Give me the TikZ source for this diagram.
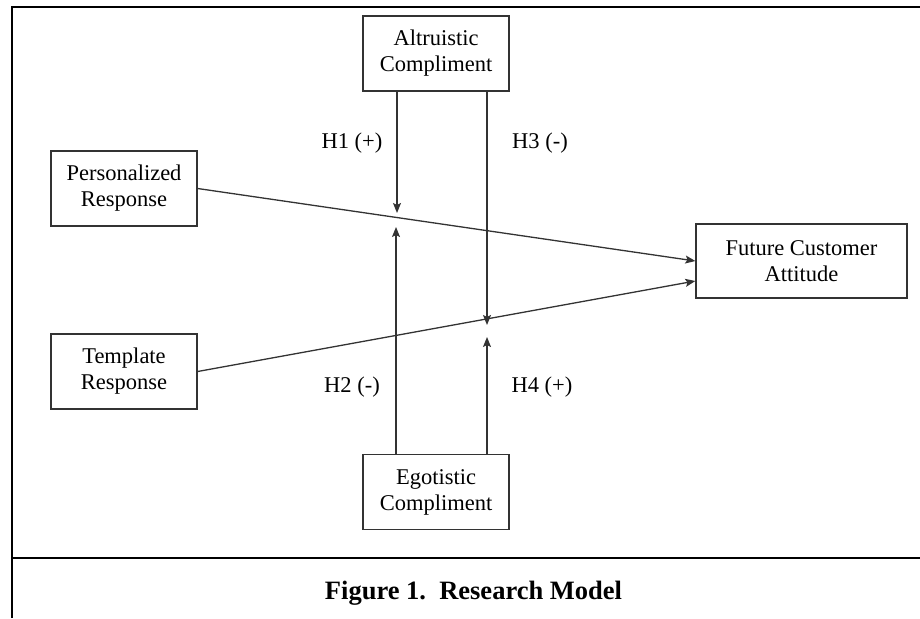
\documentclass[tikz,border=0pt]{standalone}
\usepackage{fontspec}
\setmainfont{Liberation Serif}
\usetikzlibrary{arrows.meta,calc}
\begin{document}
\begin{tikzpicture}[x=1pt,y=-1pt,
  box/.style={draw=black!80,line width=1.3pt,minimum width=146pt,minimum height=75pt,inner sep=0pt,align=center,font=\fontsize{22.5}{26}\selectfont},
  lbl/.style={font=\fontsize{22.5}{26}\selectfont,inner sep=0pt},
  arr/.style={draw=black!80,line width=1.3pt,-{Stealth[length=10pt,width=8pt,inset=2pt]}},
  frame/.style={line width=2.4pt,black}]
\useasboundingbox (0,0) rectangle (920,618);
% frame
\draw[frame] (12,618) -- (12,7) -- (920,7);
\draw[frame] (12,558) -- (920,558);
% nodes
\node[box] (alt) at (436,53.5) {Altruistic\\Compliment};
\node[box] (per) at (124,188.5) {Personalized\\Response};
\node[box] (tem) at (124,371.5) {Template\\Response};
\node[box] (ego) at (436,492) {Egotistic\\Compliment};
\node[box,minimum width=211pt,minimum height=74pt] (fut) at (801.5,261) {Future Customer\\Attitude};
% tips
\coordinate (t1) at (397,213);
\coordinate (t2) at (396,227);
\coordinate (t3) at (487,325);
\coordinate (t4) at (487,337);
% main paths
\draw[arr] (per.east) -- (fut.west);
\draw[arr] (tem.east) -- ($(fut.west)+(0,20)$);
% moderators
\draw[arr] (alt.south -| t1) -- (t1);
\draw[arr] (alt.south -| t3) -- (t3);
\draw[arr] (ego.north -| t2) -- (t2);
\draw[arr] (ego.north -| t4) -- (t4);
% labels
\node[lbl] (h1) at (352,143) {H1 (+)};
\node[lbl] (h3) at (540,143) {H3 (-)};
\node[lbl] (h2) at (352,387) {H2 (-)};
\node[lbl] (h4) at (542,387) {H4 (+)};
% caption
\node[font=\fontsize{26.5}{30}\selectfont\bfseries,inner sep=0pt] (cap) at (473.5,593) {Figure 1.\ \ Research Model};
\end{tikzpicture}
\end{document}
